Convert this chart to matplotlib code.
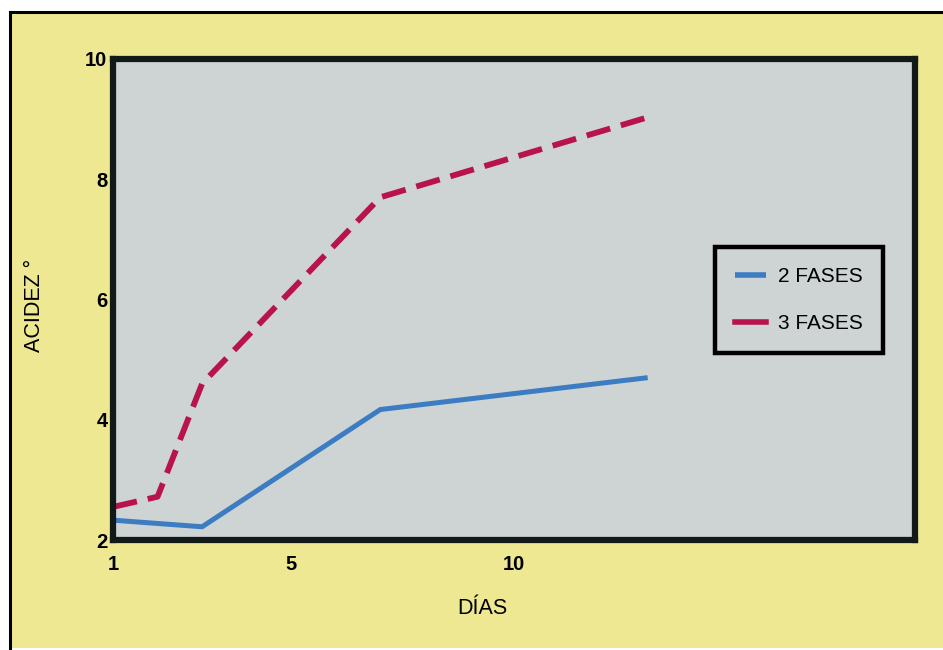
import matplotlib.pyplot as plt
from matplotlib.lines import Line2D
from matplotlib.patches import Rectangle

# Datos
dias_2f = [1, 3, 7, 13]
acidez_2f = [2.33, 2.22, 4.17, 4.70]

dias_3f = [1, 2, 3, 7, 13]
acidez_3f = [2.55, 2.72, 4.60, 7.70, 9.03]

x_ticks = [1, 5, 10]
y_ticks = [2, 4, 6, 8, 10]

amarillo = '#efe892'
gris = '#ced4d3'
azul = '#3b7cc2'
rojo = '#b8124f'

plt.rcParams['font.family'] = ['Liberation Sans', 'DejaVu Sans']

W, H = 943, 650
fig = plt.figure(figsize=(W / 100, H / 100), dpi=100, facecolor='white')

# Fondo amarillo con borde negro arriba e izquierda
fig.patches.append(Rectangle((10 / W, 2 / H), 1 - 10 / W, 636 / H,
                             transform=fig.transFigure, facecolor=amarillo,
                             edgecolor='none', zorder=-10))
fig.lines.append(Line2D([10 / W, 10 / W], [2 / H, 638 / H], transform=fig.transFigure,
                        color='black', lw=2.2, zorder=-5))
fig.lines.append(Line2D([10 / W, 1], [638 / H, 638 / H], transform=fig.transFigure,
                        color='black', lw=2.2, zorder=-5))

ax = fig.add_axes([113 / W, 110 / H, (915 - 113) / W, (540 - 59) / H])
ax.set_facecolor(gris)
ax.set_zorder(1)

ax.plot(dias_2f, acidez_2f, color=azul, lw=3.6, solid_capstyle='butt',
        solid_joinstyle='round', label='2 FASES')
ax.plot(dias_3f, acidez_3f, color=rojo, lw=4.2, dashes=(4.2, 1.9),
        dash_joinstyle='round', dash_capstyle='butt', label='3 FASES')

ax.set_xlim(1, 19)
ax.set_ylim(2, 10)
ax.set_xticks(x_ticks)
ax.set_yticks(y_ticks)
ax.tick_params(length=0, labelsize=14.5)
ax.tick_params(axis='x', pad=11)
ax.tick_params(axis='y', pad=4)
for lab in ax.get_xticklabels() + ax.get_yticklabels():
    lab.set_fontweight('bold')

for s in ax.spines.values():
    s.set_linewidth(4.5)
    s.set_color('#111a16')

fig.text(35 / W, 1 - 305 / H, 'ACIDEZ °', rotation=90, ha='center', va='center',
         fontsize=15.5)
fig.text(482 / W, 1 - 608 / H, 'DÍAS', ha='center', va='center', fontsize=15.5)

leg = ax.legend(loc='center', bbox_to_anchor=(799 / W, 1 - 300 / H),
                bbox_transform=fig.transFigure, fontsize=15, frameon=True,
                fancybox=False, handlelength=1.5, handletextpad=0.55,
                labelspacing=1.35, borderpad=0.95, borderaxespad=0)
leg.get_frame().set_facecolor(gris)
leg.get_frame().set_edgecolor('black')
leg.get_frame().set_linewidth(3.2)
leg.get_frame().set_alpha(1)
for h in leg.get_lines():
    h.set_linestyle('-')
    h.set_linewidth(4)

plt.savefig('out.png', dpi=100, facecolor=fig.get_facecolor())
